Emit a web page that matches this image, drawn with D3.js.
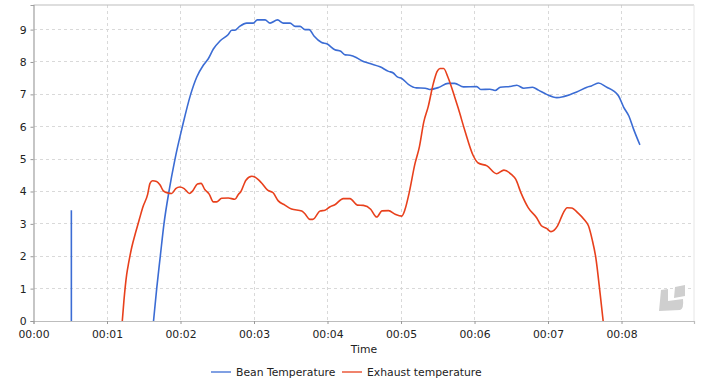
<!DOCTYPE html>
<html>
<head>
<meta charset="utf-8">
<script src="https://cdn.jsdelivr.net/npm/d3@7"></script>
<style>
  html, body { margin: 0; background: #fff; }
  svg { display: block; }
  text { font-family: "DejaVu Sans", sans-serif; font-size: 10.8px; fill: #222; }
  .gridline { stroke: #d9d9d9; stroke-dasharray: 3 3; shape-rendering: crispEdges; }
</style>
</head>
<body>
<div id="chart"></div>
<script>
// time in minutes
const beanSpike = [[0.515, 0], [0.515, 3.42]];
const beanTemp = [
  [1.633,0],[1.676,1],[1.725,2],[1.775,3],[1.843,4],[1.925,5],[2.025,6],[2.138,7],[2.22,7.53],[2.31,7.9],
  [2.378,8.1],[2.447,8.4],[2.537,8.65],[2.65,8.85],[2.696,8.98],[2.74,8.98],[2.8,9.09],[2.9,9.2],[2.99,9.2],[3.045,9.3],
  [3.15,9.3],[3.218,9.2],[3.32,9.3],[3.4,9.2],[3.49,9.2],[3.56,9.1],[3.626,9.1],[3.694,9],[3.75,9],[3.816,8.8],
  [3.92,8.6],[3.99,8.56],[4.1,8.38],[4.18,8.33],[4.24,8.22],[4.306,8.21],[4.405,8.12],[4.465,8.04],[4.578,7.95],[4.714,7.85],
  [4.83,7.71],[4.895,7.66],[4.95,7.54],[5.01,7.49],[5.1,7.31],[5.21,7.2],[5.33,7.19],[5.39,7.15],[5.51,7.21],[5.64,7.34],
  [5.73,7.34],[5.85,7.23],[6.03,7.24],[6.085,7.15],[6.21,7.16],[6.28,7.12],[6.35,7.22],[6.505,7.25],[6.575,7.28],[6.67,7.19],
  [6.79,7.22],[6.87,7.13],[6.98,7],[7.12,6.9],[7.21,6.93],[7.39,7.07],[7.53,7.22],[7.59,7.26],[7.685,7.35],[7.8,7.22],
  [7.89,7.11],[7.96,6.95],[8.03,6.6],[8.1,6.33],[8.16,5.95],[8.25,5.44]
];
const exhaustTemp = [
  [1.208,0],[1.23,0.62],[1.268,1.44],[1.295,1.8],[1.336,2.27],[1.395,2.78],[1.44,3.14],[1.485,3.5],[1.554,3.92],[1.585,4.25],
  [1.62,4.33],[1.675,4.31],[1.72,4.21],[1.766,4.02],[1.834,3.95],[1.88,3.94],[1.935,4.09],[1.99,4.14],[2.05,4.09],[2.12,3.94],
  [2.166,4.02],[2.23,4.23],[2.28,4.25],[2.33,4.06],[2.39,3.92],[2.447,3.68],[2.49,3.68],[2.56,3.79],[2.65,3.8],[2.74,3.76],
  [2.787,3.91],[2.82,3.99],[2.89,4.35],[2.97,4.47],[3.01,4.45],[3.1,4.27],[3.185,4.04],[3.26,3.96],[3.33,3.71],[3.42,3.58],
  [3.51,3.46],[3.65,3.4],[3.69,3.32],[3.76,3.14],[3.8,3.14],[3.9,3.4],[3.965,3.42],[4.03,3.52],[4.1,3.59],[4.215,3.78],
  [4.306,3.78],[4.405,3.58],[4.487,3.57],[4.587,3.45],[4.646,3.25],[4.67,3.21],[4.74,3.4],[4.83,3.41],[4.92,3.3],[5.01,3.24],
  [5.055,3.45],[5.11,3.95],[5.19,4.86],[5.25,5.38],[5.31,6.15],[5.37,6.62],[5.44,7.34],[5.49,7.7],[5.53,7.8],[5.58,7.8],
  [5.64,7.52],[5.73,6.92],[5.78,6.56],[5.87,5.87],[5.98,5.12],[6.05,4.88],[6.17,4.79],[6.3,4.55],[6.4,4.66],[6.505,4.52],
  [6.56,4.38],[6.635,3.94],[6.73,3.5],[6.845,3.19],[6.91,2.94],[6.98,2.86],[7.04,2.76],[7.13,2.94],[7.21,3.35],[7.26,3.5],
  [7.32,3.49],[7.41,3.33],[7.5,3.11],[7.55,2.94],[7.6,2.52],[7.65,1.96],[7.71,0.82],[7.75,0]
];
const xTicks = [0, 1, 2, 3, 4, 5, 6, 7, 8];
const yTicks = [0, 1, 2, 3, 4, 5, 6, 7, 8, 9];
const legendItems = [
  { label: "Bean Temperature", color: "#3b6cd4" },
  { label: "Exhaust temperature", color: "#e8401c" },
];

const W = 701, H = 388;
const margin = { t: 5, r: 7, b: 67, l: 33.5 };
const svg = d3.select("#chart").append("svg").attr("width", W).attr("height", H);
const iw = W - margin.l - margin.r, ih = H - margin.t - margin.b;
const g = svg.append("g").attr("transform", `translate(${margin.l},${margin.t})`);

const x = d3.scaleLinear().domain([0, 8.986]).range([0, iw]);
const y = d3.scaleLinear().domain([0, 9.76]).range([ih, 0]);

// ---------- grid + frame ----------
g.selectAll("line.gx").data(xTicks.slice(1)).join("line").attr("class", "gridline gx")
  .attr("x1", d => x(d)).attr("x2", d => x(d)).attr("y1", 0).attr("y2", ih);
g.selectAll("line.gy").data(yTicks.slice(1)).join("line").attr("class", "gridline gy")
  .attr("x1", 0).attr("x2", iw).attr("y1", d => y(d)).attr("y2", d => y(d));
g.append("line").attr("x1", 0).attr("x2", iw).attr("y1", 0).attr("y2", 0).attr("stroke", "#bdbdbd").attr("stroke-width", 1.2);
g.append("line").attr("x1", iw).attr("x2", iw).attr("y1", 0).attr("y2", ih).attr("stroke", "#e6e6e6");

// ---------- watermark ----------
svg.append("path").attr("fill", "#cfcfcf")
  .attr("d", "M661 290 L 668 289 L 668 301 L 683 299 Q 684 309 680 310 L 659 311 Z");
svg.append("path").attr("fill", "#cfcfcf")
  .attr("d", "M675 287 L 685 285 L 685 296 L 674 298 Z");

// ---------- axes ----------
const gx = g.append("g").attr("transform", `translate(0,${ih})`)
  .call(d3.axisBottom(x).tickValues(xTicks).tickSizeOuter(0).tickSize(3).tickPadding(6)
    .tickFormat(d => "00:0" + d));
const gy = g.append("g")
  .call(d3.axisLeft(y).tickValues(yTicks).tickSizeOuter(0).tickSize(3).tickPadding(4));
gx.select(".domain").attr("stroke", "#bdbdbd").attr("stroke-width", 1.2);
gy.select(".domain").attr("stroke", "#a0a0a0").attr("stroke-width", 1.2);
gx.selectAll(".tick line").attr("stroke", "#999");
gy.selectAll(".tick line").attr("stroke", "#999");
g.selectAll(".tick text").attr("fill", "#222").style("font-size", "10.8px");

svg.append("text").attr("x", 364).attr("y", 353).attr("text-anchor", "middle").text("Time");

// ---------- series ----------
const line = d3.line().curve(d3.curveMonotoneX).x(d => x(d[0])).y(d => y(d[1]));
[[beanSpike, legendItems[0].color], [beanTemp, legendItems[0].color], [exhaustTemp, legendItems[1].color]].forEach(([rows, color]) => {
  g.append("path").datum(rows).attr("d", rows === beanSpike ? d3.line().x(d => x(d[0])).y(d => y(d[1])) : line)
    .attr("fill", "none").attr("stroke", color).attr("stroke-width", 1.6).attr("stroke-linejoin", "round");
});

// ---------- legend ----------
const legX = [211, 342];
const leg = svg.selectAll("g.leg").data(legendItems).join("g").attr("class", "leg")
  .attr("transform", (d, i) => `translate(${legX[i]},372)`);
leg.append("line").attr("x1", 0).attr("x2", 20).attr("stroke", d => d.color).attr("stroke-width", 1.3);
leg.append("text").attr("x", 25).attr("dy", "0.35em").text(d => d.label);
</script>
</body>
</html>
